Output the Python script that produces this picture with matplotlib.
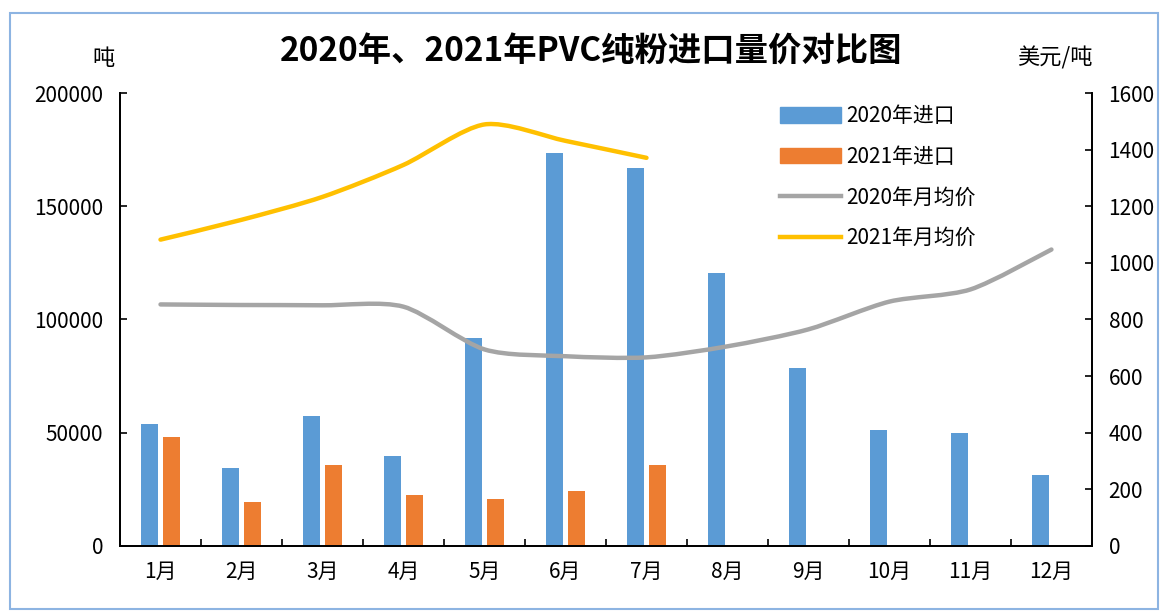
import matplotlib.pyplot as plt
from matplotlib.path import Path
from matplotlib.patches import PathPatch, Patch, Rectangle
from matplotlib.lines import Line2D
import numpy as np

plt.rcParams['font.family'] = ['Noto Sans CJK SC', 'DejaVu Sans']

months = ['1月', '2月', '3月', '4月', '5月', '6月', '7月', '8月', '9月', '10月', '11月', '12月']
imports_2020 = [53700, 34400, 57300, 39600, 91600, 173600, 167000, 120300, 78400, 51100, 49800, 31500]
imports_2021 = [48000, 19400, 35700, 22500, 20700, 24200, 35700]
price_2020 = [853, 851, 850, 845, 694, 670, 666, 705, 765, 863, 906, 1047]
price_2021 = [1082, 1152, 1233, 1346, 1489, 1431, 1371]

c_blue = '#5B9BD5'
c_orange = '#ED7D31'
c_gray = '#A5A5A5'
c_yellow = '#FFC000'


def smooth_path(xs, ys, k=7.5):
    # excel-like smoothed line, cubic bezier through every point
    verts = [(xs[0], ys[0])]
    codes = [Path.MOVETO]
    n = len(xs)
    for i in range(n - 1):
        a = i - 1 if i > 0 else i
        d = i + 2 if i + 2 < n else i + 1
        c1 = (xs[i] + (xs[i + 1] - xs[a]) / k, ys[i] + (ys[i + 1] - ys[a]) / k)
        c2 = (xs[i + 1] - (xs[d] - xs[i]) / k, ys[i + 1] - (ys[d] - ys[i]) / k)
        verts += [c1, c2, (xs[i + 1], ys[i + 1])]
        codes += [Path.CURVE4] * 3
    return Path(verts, codes)


fig = plt.figure(figsize=(11.64, 6.14), dpi=100)
ax = fig.add_axes([0.1031, 0.111, 0.835, 0.7375])
ax2 = ax.twinx()

x = np.arange(len(months))
w = 0.21
off = 0.13
ax.bar(x - off, imports_2020, width=w, color=c_blue, zorder=2)
ax.bar(x[:len(imports_2021)] + off, imports_2021, width=w, color=c_orange, zorder=2)

ax2.add_patch(PathPatch(smooth_path(x, price_2020), facecolor='none', edgecolor=c_gray,
                        lw=3.2, capstyle='round', zorder=3))
ax2.add_patch(PathPatch(smooth_path(x[:len(price_2021)], price_2021), facecolor='none',
                        edgecolor=c_yellow, lw=3.2, capstyle='round', zorder=3))

ax.set_xlim(-0.5, 11.5)
ax.set_ylim(0, 200000)
ax2.set_ylim(0, 1600)
ax.set_yticks(np.arange(0, 200001, 50000))
ax.set_yticklabels([str(v) for v in range(0, 200001, 50000)])
ax2.set_yticks(np.arange(0, 1601, 200))

ax.set_xticks(x)
ax.set_xticklabels(months)
ax.set_xticks(np.arange(0.5, 11, 1), minor=True)
ax.tick_params(axis='x', which='major', length=0, pad=11, labelsize=15)
ax.tick_params(axis='x', which='minor', direction='in', length=5, width=1.2)
ax.tick_params(axis='y', direction='in', length=5, width=1.2, pad=12, labelsize=15)
ax2.tick_params(axis='y', direction='in', length=5, width=1.2, pad=12, labelsize=15)

for a in (ax, ax2):
    a.spines['top'].set_visible(False)
    for s in ('left', 'right', 'bottom'):
        a.spines[s].set_linewidth(1.3)
ax.set_zorder(ax2.get_zorder() - 1)
ax2.patch.set_visible(False)

handles = [Patch(color=c_blue), Patch(color=c_orange),
           Line2D([], [], color=c_gray, lw=3.2), Line2D([], [], color=c_yellow, lw=3.2)]
labels = ['2020年进口', '2021年进口', '2020年月均价', '2021年月均价']
ax2.legend(handles, labels, loc='upper left', bbox_to_anchor=(0.66, 1.015), frameon=False,
           fontsize=15, labelspacing=0.9, handlelength=2.9, handleheight=0.8, handletextpad=0.25)

fig.text(0.508, 0.915, '2020年、2021年PVC纯粉进口量价对比图', ha='center', va='center',
         fontsize=24, fontweight='bold')
fig.text(0.089, 0.905, '吨', ha='center', va='center', fontsize=16)
fig.text(0.906, 0.905, '美元/吨', ha='center', va='center', fontsize=16)

fig.patches.append(Rectangle((0.009, 0.008), 0.986, 0.971, transform=fig.transFigure,
                             fill=False, edgecolor='#8DB4E2', lw=1.5))

fig.savefig('out.png', dpi=100)
